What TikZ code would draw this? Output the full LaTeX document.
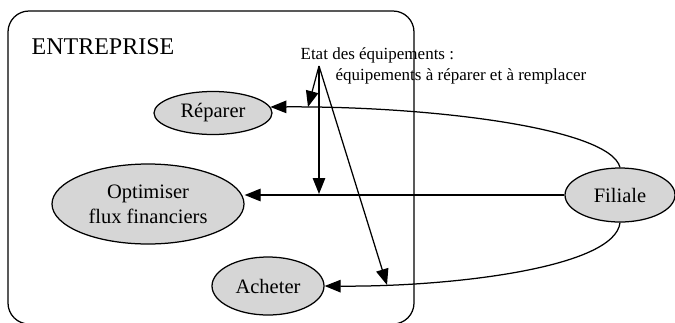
\documentclass[tikz,border=0pt]{standalone}
\usepackage{fontspec}
\setmainfont{Liberation Serif}
\usetikzlibrary{arrows.meta,shapes.geometric}

\begin{document}
\begin{tikzpicture}[x=1pt,y=-1pt,
  line width=1.25pt,
  task/.style={ellipse,draw,fill=black!16,inner sep=0pt,align=center,
    font=\fontsize{20.5}{25}\selectfont},
  arr/.style={-{Triangle[length=16pt,width=12.5pt]}},
  lbl/.style={anchor=base west,inner sep=0pt,font=\fontsize{17}{20}\selectfont}]

\clip (0,0) rectangle (675,322);

% enterprise boundary
\draw[rounded corners=21pt] (8,11) rectangle (414,324);
\node[anchor=base west,inner sep=0pt,font=\fontsize{24}{28}\selectfont]
  (ent) at (31,54) {ENTREPRISE};

% processes
\node[task,minimum width=118pt,minimum height=43pt] (rep) at (213,113) {Réparer};
\node[task,minimum width=192pt,minimum height=80pt] (opt) at (148,204)
  {Optimiser\\flux financiers};
\node[task,minimum width=112pt,minimum height=58pt] (ach) at (268,286) {Acheter};
\node[task,minimum width=110pt,minimum height=54pt] (fil) at (620,195) {Filiale};

% flows from the subsidiary
\draw[arr] (fil.north) .. controls (610,128) and (430,106) .. (rep.6);
\draw[arr] (fil.west) -- (fil.west -| opt.east);
\draw[arr] (fil.south) .. controls (615,268) and (450,287) .. (ach.east);

% flow label
\node[lbl] (l1) at (300,59) {Etat des équipements :};
\node[lbl] (l2) at (335,80) {équipements à réparer et à remplacer};
\coordinate (apex) at (319,66);
\coordinate (t1) at (308,107);
\coordinate (t2) at (319,194);
\coordinate (t3) at (387,285);
\draw[arr] (apex) -- (t1);
\draw[arr] (apex) -- (t2);
\draw[arr] (apex) -- (t3);
\end{tikzpicture}
\end{document}
